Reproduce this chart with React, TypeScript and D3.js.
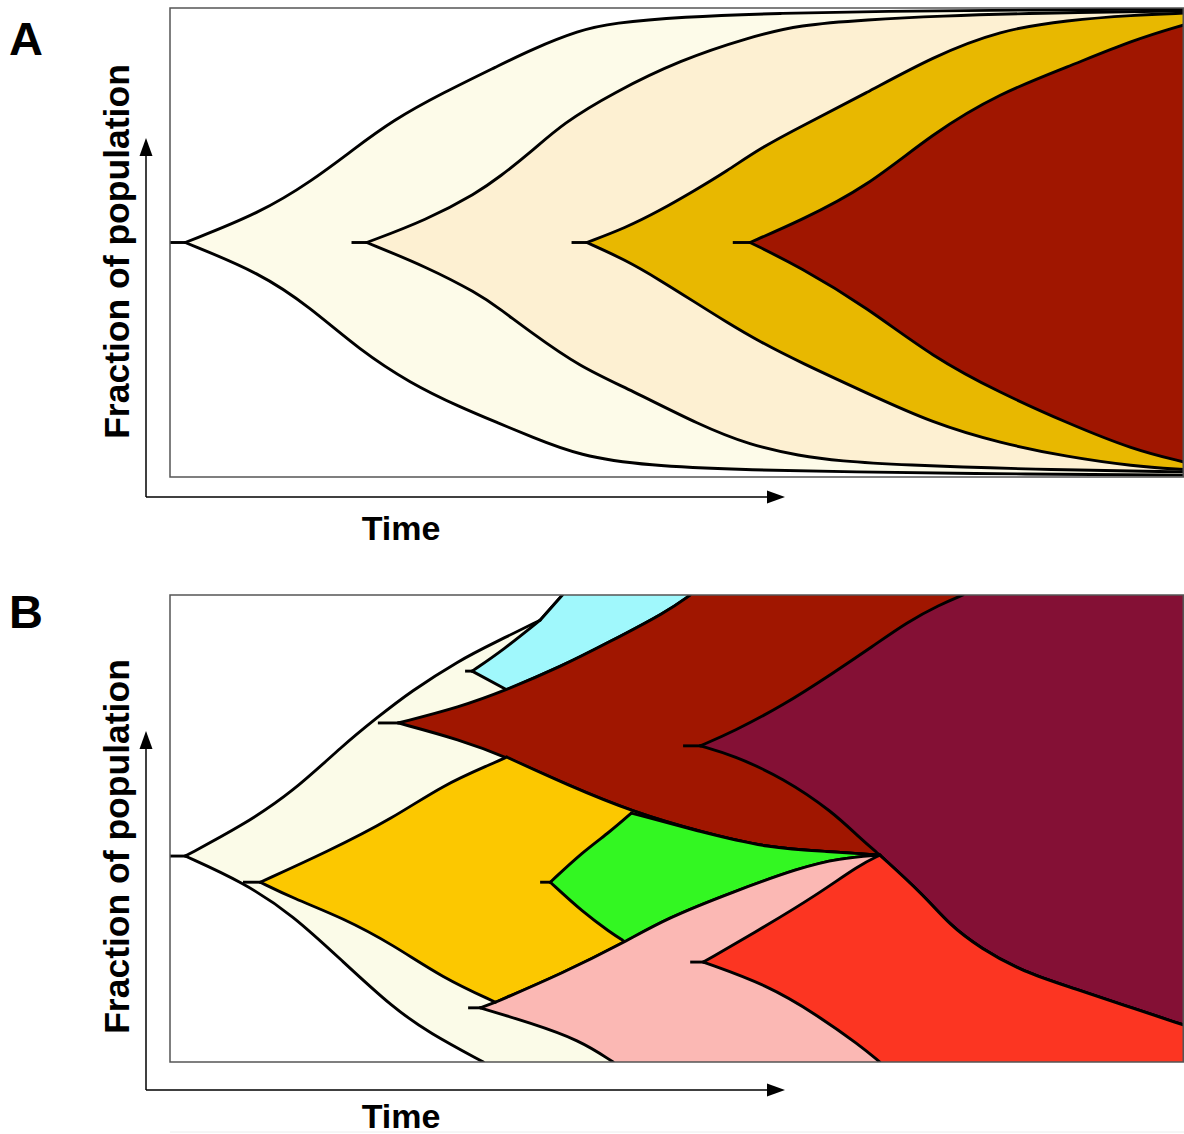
import React from 'react';
import * as d3 from 'd3';

type P = [number, number];

// Boundaries are given as lists of smooth segments; time 0-100, fraction of population 0-100 (% from bottom).

// ---------- Panel A ----------
const aStub1: number[] = [0, 1.5, 50];
const aTop1: P[] = [[1.5, 50], [8.9, 56.3], [14.1, 63.3], [18, 69.7], [22, 76.1], [26.9, 81.9], [32.5, 87.8], [35.5, 91], [40.4, 95.3], [43.7, 96.8], [50.3, 98.1], [60.2, 98.9], [70, 99.3], [85, 99.6], [100, 99.8]];
const aBot1: P[] = [[1.5, 50], [8.9, 43.5], [13.8, 36.2], [18.7, 27.1], [23.7, 20], [28.6, 14.9], [32.5, 11.4], [35.5, 8.7], [40.4, 4.5], [47, 2.4], [56.9, 1.5], [66.1, 1.1], [85, 0.6], [100, 0.4]];

const aStub2: number[] = [17.9, 19.4, 50];
const aTop2: P[] = [[19.4, 50], [25.3, 54.8], [30.3, 60.6], [32.5, 64], [35.5, 69.1], [38.8, 75.5], [43.7, 81.9], [50.3, 88.9], [57.2, 93.8], [62.1, 96.4], [68.7, 97.5], [76, 98.3], [85.1, 98.9], [100, 99.4]];
const aBot2: P[] = [[19.4, 50], [25.3, 44.8], [30.3, 39.2], [32.5, 35.9], [35.5, 31], [40.4, 23.5], [45.4, 18.6], [52.3, 11], [57.2, 6.8], [62.1, 4.5], [66.1, 3.4], [72, 2.6], [85.1, 1.6], [100, 1.1]];

const aStub3: number[] = [39.6, 41.1, 50];
const aTop3: P[] = [[41.1, 50], [44.9, 53.1], [48.3, 56.8], [51.6, 60.9], [54.9, 65.2], [58.2, 70.1], [62.1, 74.6], [68.7, 81.9], [75.2, 89.6], [81.9, 95.3], [88.5, 97.4], [95, 98.5], [100, 98.9]];
const aBot3: P[] = [[41.1, 50], [44.9, 46.3], [48.3, 42], [51.6, 37.5], [54.9, 33], [58.2, 28.8], [62.1, 24.5], [68.7, 17.9], [75.2, 11.5], [81.9, 7.2], [88.5, 4.3], [95, 2.3], [100, 1.6]];

const aStub4: number[] = [55.5, 57.2, 50];
const aTop4: P[] = [[57.2, 50], [62.1, 54.6], [68.7, 61.8], [75.2, 73.3], [81.9, 81.9], [88.5, 87.4], [95, 93.2], [100, 96.4]];
const aBot4: P[] = [[57.2, 50], [62.1, 44.8], [68.7, 36.2], [75.2, 25.6], [81.9, 17.9], [88.5, 11.5], [95, 5.8], [100, 3.2]];

const aColors: string[] = ['#fdfbe9', '#fdf0d2', '#e8b800', '#a01600'];

// ---------- Panel B ----------
const bCreamStub: number[] = [0, 1.5, 44.1];
const bCreamTop: P[] = [[1.5, 44.1], [7.2, 50.7], [12.1, 57.8], [17.1, 67.9], [20.4, 73.7], [23.7, 79.3], [28.6, 86.1], [31.9, 89.7], [36.5, 94.6]];
const bMergedTop: P[] = [[36.5, 94.6], [38.7, 100]];
const bTopEdgeFrom38: P[] = [[38.7, 100], [100, 100]];
const bCreamBot: P[] = [[1.5, 44.1], [7.2, 38.5], [12.1, 31.5], [17.1, 21.4], [22, 11.6], [25.6, 6.2], [30.9, 0]];
const bBotEdgeFrom31: P[] = [[30.9, 0], [100, 0]];

const bRedStub: number[] = [20.5, 22.5, 72.6];
const bRedTop: P[] = [[22.5, 72.6], [28.6, 76], [33.2, 79.7], [38.5, 84.6], [43.2, 89.8], [49, 96.4], [51.3, 100]];
const bTopEdgeFrom51: P[] = [[51.3, 100], [100, 100]];
const bRedBot: P[] = [[22.5, 72.6], [28.6, 69], [33.2, 65.3], [39.2, 59.3], [45.7, 53.5], [52.3, 49.3], [58.9, 45.8], [65.4, 45], [68, 44.6], [70, 44.3]];

const bCyanStub: number[] = [29.1, 29.8, 83.7];
const bCyanTop: P[] = [[29.8, 83.7], [32.9, 88.3], [36.5, 94.6]];
const bCyanBot: P[] = [[29.8, 83.7], [33.2, 79.7]];

const bMaroonStub: number[] = [50.6, 52.3, 67.7];
const bMaroonTop: P[] = [[52.3, 67.7], [55.5, 70.7], [60.5, 76.4], [65.4, 83.3], [69.3, 89], [72.7, 94.2], [75.9, 97.9], [78.2, 100]];
const bTopEdgeFrom78: P[] = [[78.2, 100], [100, 100]];
const bMaroonBot1: P[] = [[52.3, 67.7], [55.5, 65.7], [60.5, 60.8], [65.4, 53.5], [68, 48], [70, 44.3]];
const bMaroonBot2: P[] = [[70, 44.3], [74.3, 35.8], [76.9, 29.3], [79.9, 24.4], [84.1, 19.3], [89.1, 15.8], [94, 12.2], [100, 7.9]];

const bGoldStub: number[] = [7.2, 8.9, 38.5];
const bGoldTop: P[] = [[8.9, 38.5], [15.5, 45], [22, 52.2], [26.9, 59.3], [31.9, 64], [33.2, 65.3]];
const bGoldBot: P[] = [[8.9, 38.5], [12.1, 35.1], [17.1, 30.8], [22, 25.1], [26.9, 18], [32.1, 12.8]];

const bPinkStub: number[] = [29.4, 30.6, 11.6];
const bPinkTip: P[] = [[30.6, 11.6], [32.1, 12.8]];
const bPinkTop: P[] = [[32.1, 12.8], [38.8, 19.1], [44.7, 25.5], [49, 30.8], [55.5, 36.4], [62.1, 41.6], [66, 43.6], [70, 44.3]];
const bPinkBot: P[] = [[30.6, 11.6], [35.5, 8.4], [40.4, 4.7], [43.7, 0]];
const bBotEdgeFrom44: P[] = [[43.7, 0], [100, 0]];

const bGreenStub: number[] = [36.5, 37.5, 38.5];
const bGreenTop: P[] = [[37.5, 38.5], [40.7, 45], [43.4, 49.3], [45.5, 53.3]];
const bGreenBot: P[] = [[37.5, 38.5], [40.7, 32.1], [43.4, 27.8], [44.9, 25.7]];

const bOrangeStub: number[] = [51.3, 52.6, 21.4];
const bOrangeTop: P[] = [[52.6, 21.4], [58.9, 29.3], [63.8, 35.8], [68, 42.2], [70, 44.3]];
const bOrangeBot: P[] = [[52.6, 21.4], [58.9, 16.5], [63.8, 10.1], [68, 3.6], [70, 0]];
const bBotEdgeFrom70: P[] = [[70, 0], [100, 0]];

const bColors = {
  cream: '#fbfbe8', cyan: '#a0f8fc', red: '#a01600', maroon: '#841035',
  gold: '#fcc800', green: '#33f722', pink: '#fbb8b4', orange: '#fc3522',
};

const yLabel = 'Fraction of population';
const xLabel = 'Time';

// continue along another boundary from a junction point
const from = (p: P, arr: P[]): P[] => [p, ...arr.filter((q) => q[0] > p[0] + 0.3)];

interface Clone { color: string; stub: number[]; top: P[][]; bottom: P[][]; }

const panelA: Clone[] = [
  { color: aColors[0], stub: aStub1, top: [aTop1], bottom: [aBot1] },
  { color: aColors[1], stub: aStub2, top: [aTop2], bottom: [aBot2] },
  { color: aColors[2], stub: aStub3, top: [aTop3], bottom: [aBot3] },
  { color: aColors[3], stub: aStub4, top: [aTop4], bottom: [aBot4] },
];

const panelB: Clone[] = [
  { color: bColors.cream, stub: bCreamStub, top: [bCreamTop, bMergedTop, bTopEdgeFrom38], bottom: [bCreamBot, bBotEdgeFrom31] },
  { color: bColors.cyan, stub: bCyanStub, top: [bCyanTop, bMergedTop, bTopEdgeFrom38], bottom: [bCyanBot, from([33.2, 79.7], bRedTop), bTopEdgeFrom51] },
  { color: bColors.red, stub: bRedStub, top: [bRedTop, bTopEdgeFrom51], bottom: [bRedBot, bMaroonBot2] },
  { color: bColors.maroon, stub: bMaroonStub, top: [bMaroonTop, bTopEdgeFrom78], bottom: [bMaroonBot1, bMaroonBot2] },
  { color: bColors.gold, stub: bGoldStub, top: [bGoldTop, from([33.2, 65.3], bRedBot)], bottom: [bGoldBot, from([32.1, 12.8], bPinkTop)] },
  { color: bColors.green, stub: bGreenStub, top: [bGreenTop, from([45.5, 53.3], bRedBot)], bottom: [bGreenBot, from([44.9, 25.7], bPinkTop)] },
  { color: bColors.pink, stub: bPinkStub, top: [bPinkTip, bPinkTop, bMaroonBot2], bottom: [bPinkBot, bBotEdgeFrom44] },
  { color: bColors.orange, stub: bOrangeStub, top: [bOrangeTop, bMaroonBot2], bottom: [bOrangeBot, bBotEdgeFrom70] },
];

const W = 1184;
const H = 1134;
const FONT = '"Liberation Sans", Arial, Helvetica, sans-serif';
const LINE_W = 2.9;

function Panel({ clones, top, bottom, id, letter, letterY, arrowY, timeY, arrowTopY, labelY }: {
  clones: Clone[]; top: number; bottom: number; id: string; letter: string; letterY: number; arrowY: number; timeY: number; arrowTopY: number; labelY: number;
}) {
  const left = 170;
  const right = 1184;
  const x = d3.scaleLinear().domain([0, 100]).range([left, right]);
  const y = d3.scaleLinear().domain([0, 100]).range([bottom, top]);
  const seg = d3.line<P>().x((d) => x(d[0])).y((d) => y(d[1])).curve(d3.curveBasis);
  const chain = (segs: P[][]) =>
    segs.map((s, i) => {
      const d = seg(s) || '';
      return i === 0 ? d : d.replace(/^M[^A-Za-z]*/, '');
    }).join('');
  const areaPath = (c: Clone) => {
    const t = chain(c.top);
    const rev = c.bottom.slice().reverse().map((s) => s.slice().reverse());
    const b = chain(rev).replace(/^M/, 'L');
    return t + b + 'Z';
  };
  const onEdge = (s: P[]) => s.every((p) => p[1] >= 100) || s.every((p) => p[1] <= 0);
  const axX = 146;
  return (
    <g>
      <defs>
        <clipPath id={id}>
          <rect x={left} y={top} width={right - left} height={bottom - top} />
        </clipPath>
      </defs>
      <text x={9} y={letterY} fontFamily={FONT} fontWeight="bold" fontSize={47} fill="#000">{letter}</text>
      <g clipPath={`url(#${id})`}>
        {clones.map((c, i) => (
          <g key={i}>
            <path d={areaPath(c)} fill={c.color} stroke="none" />
            {c.top.concat(c.bottom).filter((s) => !onEdge(s)).map((s, j) => (
              <path key={j} d={seg(s) || ''} fill="none" stroke="#000" strokeWidth={LINE_W} strokeLinejoin="round" strokeLinecap="round" />
            ))}
            <line x1={x(c.stub[0])} x2={x(c.stub[1]) + 2} y1={y(c.stub[2])} y2={y(c.stub[2])} stroke="#000" strokeWidth={LINE_W} />
          </g>
        ))}
      </g>
      <rect x={left} y={top} width={right - left - 0.75} height={bottom - top} fill="none" stroke="#555" strokeWidth={1.5} />
      <line x1={axX} y1={arrowY} x2={axX} y2={arrowTopY + 16} stroke="#000" strokeWidth={1.5} />
      <path d={`M${axX},${arrowTopY} L${axX - 6.5},${arrowTopY + 18} L${axX + 6.5},${arrowTopY + 18} Z`} fill="#000" />
      <line x1={axX} y1={arrowY} x2={770} y2={arrowY} stroke="#000" strokeWidth={1.5} />
      <path d={`M785,${arrowY} L767,${arrowY - 6.5} L767,${arrowY + 6.5} Z`} fill="#000" />
      <text transform={`translate(129,${labelY}) rotate(-90)`} textAnchor="middle" fontFamily={FONT} fontWeight="bold" fontSize={35.5} fill="#000">{yLabel}</text>
      <text x={401} y={timeY} textAnchor="middle" fontFamily={FONT} fontWeight="bold" fontSize={34} fill="#000">{xLabel}</text>
    </g>
  );
}

export default function App() {
  return (
    <svg width={W} height={H} viewBox={`0 0 ${W} ${H}`} style={{ position: 'absolute', left: 0, top: 0, background: '#fff' }}>
      <rect x={0} y={0} width={W} height={H} fill="#fff" />
      <Panel clones={panelA} top={8} bottom={477} id="clipA" letter="A" letterY={55} arrowY={497} timeY={540} arrowTopY={138} labelY={251.5} />
      <Panel clones={panelB} top={595} bottom={1062} id="clipB" letter="B" letterY={628} arrowY={1090} timeY={1128} arrowTopY={731} labelY={846.5} />
      <line x1={170} x2={1184} y1={1132} y2={1132} stroke="#ececec" strokeWidth={1} />
    </svg>
  );
}
